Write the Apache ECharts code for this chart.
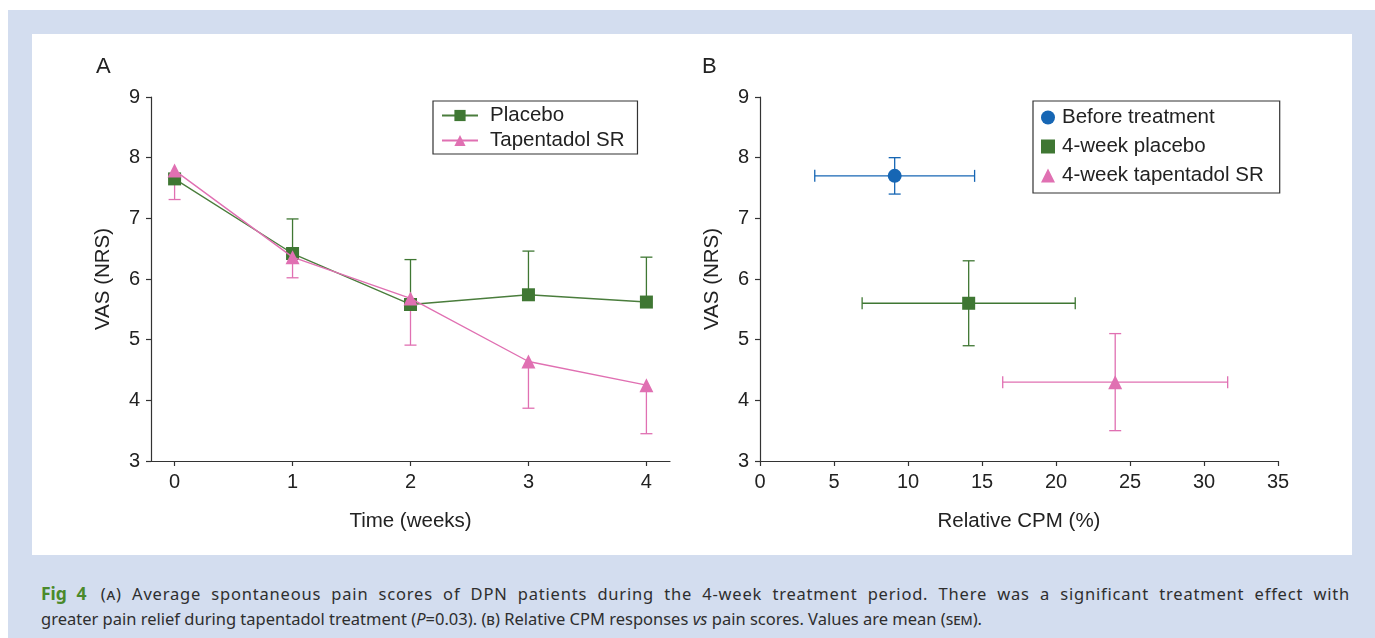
<!DOCTYPE html>
<html>
<head>
<meta charset="utf-8">
<script src="https://cdn.jsdelivr.net/npm/echarts@6/dist/echarts.min.js"></script>
<style>
  html, body { margin: 0; padding: 0; background: #ffffff; width: 1375px; height: 638px; overflow: hidden; }
  #frame { position: absolute; left: 8px; top: 10px; width: 1367px; height: 628px; background: #d3ddef; }
  #inner { position: absolute; left: 32px; top: 34px; width: 1320px; height: 521px; background: #ffffff; }
  #chart { position: absolute; left: 0; top: 0; width: 1375px; height: 638px; }
  #caption { position: absolute; left: 41px; top: 581px; width: 1309px; font-family: "Noto Sans", "Open Sans", sans-serif; font-size: 16.5px; line-height: 25px; color: #2e2e2e; white-space: nowrap; }
  #caption .l1 { text-align: justify; text-align-last: justify; letter-spacing: 0.8px; }
  #caption .fig { color: #4a8a2b; font-weight: bold; margin-right: 4px; font-size: 17.5px; letter-spacing: 0; }
  #caption .sc { font-variant: small-caps; }
</style>
</head>
<body>
<div id="frame"></div>
<div id="inner"></div>
<div id="caption">
  <div class="l1"><span class="fig">Fig 4</span> (<span class="sc">a</span>) Average spontaneous pain scores of DPN patients during the 4-week treatment period. There was a significant treatment effect with</div>
  <div>greater pain relief during tapentadol treatment (<i>P</i>=0.03). (<span class="sc">b</span>) Relative CPM responses <i>vs</i> pain scores. Values are mean (<span class="sc">sem</span>).</div>
</div>
<div id="chart"></div>
<script>
// ---- Panel A data ----
const weeks = [0, 1, 2, 3, 4];
const placeboMean = [7.65, 6.42, 5.58, 5.74, 5.62];
const placeboUpper = [7.65, 6.99, 6.32, 6.46, 6.36];
const tapMean = [7.79, 6.36, 5.68, 4.64, 4.25];
const tapLower = [7.31, 6.02, 4.91, 3.87, 3.45];

// ---- Panel B data ----
const groupNames = ['Before treatment', '4-week placebo', '4-week tapentadol SR'];
const cpmMean = [9.1, 14.1, 24.0];
const cpmLow = [3.7, 6.9, 16.4];
const cpmHigh = [14.5, 21.3, 31.6];
const vasMean = [7.7, 5.6, 4.3];
const vasLow = [7.4, 4.9, 3.5];
const vasHigh = [8.0, 6.3, 5.1];

const GREEN = '#3f7733';
const PINK = '#e070b2';
const BLUE = '#1666b4';
const FONT = '"Liberation Sans", Arial, sans-serif';
const TXT = '#222222';

const chart = echarts.init(document.getElementById('chart'), null, { renderer: 'canvas' });

function vErr(color) {
  return function (params, api) {
    const x = api.value(0), a = api.value(1), b = api.value(2);
    const p1 = api.coord([x, a]);
    const p2 = api.coord([x, b]);
    const cap = 6;
    return {
      type: 'group',
      children: [
        { type: 'line', shape: { x1: p1[0], y1: p1[1], x2: p2[0], y2: p2[1] }, style: { stroke: color, lineWidth: 1.3 } },
        { type: 'line', shape: { x1: p2[0] - cap, y1: p2[1], x2: p2[0] + cap, y2: p2[1] }, style: { stroke: color, lineWidth: 1.3 } }
      ]
    };
  };
}

function crossErr(params, api) {
  const colors = [BLUE, GREEN, PINK];
  const c = colors[params.dataIndex];
  const xl = api.coord([api.value(0), api.value(4)]);
  const xh = api.coord([api.value(1), api.value(4)]);
  const yl = api.coord([api.value(5), api.value(2)]);
  const yh = api.coord([api.value(5), api.value(3)]);
  const cap = 6;
  const st = { stroke: c, lineWidth: 1.3 };
  return {
    type: 'group',
    children: [
      { type: 'line', shape: { x1: xl[0], y1: xl[1], x2: xh[0], y2: xh[1] }, style: st },
      { type: 'line', shape: { x1: xl[0], y1: xl[1] - cap, x2: xl[0], y2: xl[1] + cap }, style: st },
      { type: 'line', shape: { x1: xh[0], y1: xh[1] - cap, x2: xh[0], y2: xh[1] + cap }, style: st },
      { type: 'line', shape: { x1: yl[0], y1: yl[1], x2: yh[0], y2: yh[1] }, style: st },
      { type: 'line', shape: { x1: yl[0] - cap, y1: yl[1], x2: yl[0] + cap, y2: yl[1] }, style: st },
      { type: 'line', shape: { x1: yh[0] - cap, y1: yh[1], x2: yh[0] + cap, y2: yh[1] }, style: st }
    ]
  };
}

const axisCommon = {
  axisLine: { show: true, onZero: false, lineStyle: { color: '#333', width: 1.2 } },
  axisTick: { show: true, length: 5, lineStyle: { color: '#333', width: 1.2 } },
  splitLine: { show: false },
  axisLabel: { color: TXT, fontFamily: FONT, fontSize: 20 },
  nameTextStyle: { color: TXT, fontFamily: FONT, fontSize: 20.5 }
};

const option = {
  animation: false,
  backgroundColor: 'transparent',
  textStyle: { fontFamily: FONT },
  title: [
    { text: 'A', left: 96, top: 56, padding: 0, textStyle: { fontFamily: FONT, fontSize: 22, fontWeight: 'normal', color: TXT } },
    { text: 'B', left: 702, top: 56, padding: 0, textStyle: { fontFamily: FONT, fontSize: 22, fontWeight: 'normal', color: TXT } }
  ],
  grid: [
    { left: 151, top: 97, width: 519, height: 364 },
    { left: 760, top: 97, width: 518, height: 364 }
  ],
  xAxis: [
    Object.assign({}, axisCommon, {
      gridIndex: 0, type: 'value', min: -0.2, max: 4.2,
      name: 'Time (weeks)', nameLocation: 'middle', nameGap: 50,
      axisTick: Object.assign({}, axisCommon.axisTick, { customValues: weeks }),
      axisLabel: Object.assign({}, axisCommon.axisLabel, { customValues: weeks, margin: 11 })
    }),
    Object.assign({}, axisCommon, {
      gridIndex: 1, type: 'value', min: 0, max: 35, interval: 5,
      name: 'Relative CPM (%)', nameLocation: 'middle', nameGap: 50,
      axisLabel: Object.assign({}, axisCommon.axisLabel, { margin: 11 })
    })
  ],
  yAxis: [
    Object.assign({}, axisCommon, {
      gridIndex: 0, type: 'value', min: 3, max: 9, interval: 1,
      name: 'VAS (NRS)', nameLocation: 'middle', nameGap: 37,
      axisLabel: Object.assign({}, axisCommon.axisLabel, { margin: 11 })
    }),
    Object.assign({}, axisCommon, {
      gridIndex: 1, type: 'value', min: 3, max: 9, interval: 1,
      name: 'VAS (NRS)', nameLocation: 'middle', nameGap: 37,
      axisLabel: Object.assign({}, axisCommon.axisLabel, { margin: 11 })
    })
  ],
  legend: [
    {
      data: ['Placebo', 'Tapentadol SR'],
      left: 433, top: 101,
      orient: 'vertical',
      borderColor: '#333', borderWidth: 1.2,
      padding: [4, 13, 3, 8],
      itemGap: 4, itemWidth: 36, itemHeight: 14,
      textStyle: { fontFamily: FONT, fontSize: 20.5, color: TXT, padding: [0, 0, 0, 7] }
    },
    {
      data: groupNames,
      left: 1033, top: 101,
      orient: 'vertical',
      borderColor: '#333', borderWidth: 1.2,
      padding: [6, 16, 7, 8],
      itemGap: 8, itemWidth: 14, itemHeight: 14,
      textStyle: { fontFamily: FONT, fontSize: 20.5, color: TXT, padding: [0, 0, 0, 2] }
    }
  ],
  series: [
    {
      name: 'placeboErr', type: 'custom', xAxisIndex: 0, yAxisIndex: 0,
      renderItem: vErr(GREEN), z: 2,
      data: weeks.map((w, i) => [w, placeboMean[i], placeboUpper[i]])
    },
    {
      name: 'tapErr', type: 'custom', xAxisIndex: 0, yAxisIndex: 0,
      renderItem: vErr(PINK), z: 2,
      data: weeks.map((w, i) => [w, tapMean[i], tapLower[i]])
    },
    {
      name: 'Placebo', type: 'line', xAxisIndex: 0, yAxisIndex: 0, z: 3,
      data: weeks.map((w, i) => [w, placeboMean[i]]),
      symbol: 'rect', symbolSize: 13,
      itemStyle: { color: GREEN },
      lineStyle: { color: '#4a7d3c', width: 1.4 }
    },
    {
      name: 'Tapentadol SR', type: 'line', xAxisIndex: 0, yAxisIndex: 0, z: 4,
      data: weeks.map((w, i) => [w, tapMean[i]]),
      symbol: 'triangle', symbolSize: 14,
      itemStyle: { color: PINK },
      lineStyle: { color: PINK, width: 1.4 }
    },
    {
      name: 'crossErr', type: 'custom', xAxisIndex: 1, yAxisIndex: 1, z: 2,
      renderItem: crossErr,
      data: cpmMean.map((m, i) => [cpmLow[i], cpmHigh[i], vasLow[i], vasHigh[i], vasMean[i], m])
    },
    {
      name: groupNames[0], type: 'scatter', xAxisIndex: 1, yAxisIndex: 1, z: 3,
      symbol: 'circle', symbolSize: 14, itemStyle: { color: BLUE, opacity: 1 },
      data: [[cpmMean[0], vasMean[0]]]
    },
    {
      name: groupNames[1], type: 'scatter', xAxisIndex: 1, yAxisIndex: 1, z: 3,
      symbol: 'rect', symbolSize: 13, itemStyle: { color: GREEN, opacity: 1 },
      data: [[cpmMean[1], vasMean[1]]]
    },
    {
      name: groupNames[2], type: 'scatter', xAxisIndex: 1, yAxisIndex: 1, z: 3,
      symbol: 'triangle', symbolSize: 14, itemStyle: { color: PINK, opacity: 1 },
      data: [[cpmMean[2], vasMean[2]]]
    }
  ]
};
chart.setOption(option);
</script>
</body>
</html>
